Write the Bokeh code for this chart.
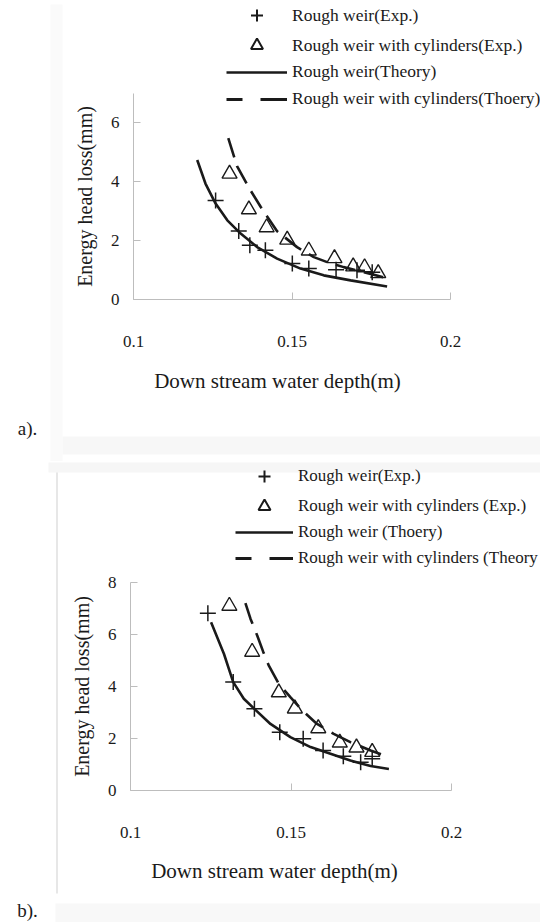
from bokeh.plotting import figure
from bokeh.layouts import column
from bokeh.models import (Legend, LegendItem, Label, Range1d, FixedTicker, BoxAnnotation,
                          LinearAxis)
from bokeh.embed import file_html
from bokeh.resources import INLINE

NAN = float("nan")

# ---------------- data: panel a ----------------
a_rough_exp_x = [0.1259, 0.1332, 0.1367, 0.1416, 0.1501, 0.1553, 0.1639, 0.1705, 0.1753]
a_rough_exp_y = [3.36, 2.33, 1.84, 1.67, 1.22, 1.05, 1.01, 0.99, 0.93]
a_cyl_exp_x = [0.1303, 0.1364, 0.1420, 0.1485, 0.1553, 0.1634, 0.1693, 0.1729, 0.1772]
a_cyl_exp_y = [4.27, 3.06, 2.45, 2.03, 1.66, 1.40, 1.12, 1.09, 0.89]
a_rough_th_x = [0.1201, 0.1227, 0.1259, 0.1296, 0.1338, 0.1390, 0.1453, 0.1527, 0.1600, 0.1685, 0.1800]
a_rough_th_y = [4.74, 3.94, 3.26, 2.69, 2.24, 1.78, 1.39, 1.05, 0.82, 0.65, 0.44]
a_cyl_th_x = [0.1299, 0.1327, 0.1364, 0.1401, 0.1453, 0.1516, 0.1569, 0.1611, 0.1663, 0.1727, 0.1805]
a_cyl_th_y = [5.48, 4.52, 3.80, 3.15, 2.32, 1.78, 1.44, 1.27, 1.10, 0.93, 0.71]
a_labels = ["Rough weir(Exp.)", "Rough weir with cylinders(Exp.)",
            "Rough weir(Theory)", "Rough weir with cylinders(Thoery)"]

# ---------------- data: panel b ----------------
b_rough_exp_x = [0.1241, 0.1320, 0.1386, 0.1465, 0.1538, 0.1600, 0.1663, 0.1717, 0.1753]
b_rough_exp_y = [6.82, 4.17, 3.14, 2.24, 1.99, 1.54, 1.32, 1.09, 1.22]
b_cyl_exp_x = [0.1308, 0.1379, 0.1462, 0.1512, 0.1585, 0.1652, 0.1704, 0.1753]
b_cyl_exp_y = [7.10, 5.33, 3.77, 3.15, 2.39, 1.84, 1.65, 1.48]
b_rough_th_x = [0.1251, 0.1291, 0.1320, 0.1353, 0.1386, 0.1436, 0.1498, 0.1561, 0.1623, 0.1685, 0.1748, 0.1805]
b_rough_th_y = [6.47, 5.26, 4.17, 3.53, 3.14, 2.56, 2.05, 1.67, 1.41, 1.15, 0.94, 0.83]
b_cyl_th_x = [0.1358, 0.1374, 0.1395, 0.1413, 0.1431, 0.1462, 0.1498, 0.1535, 0.1581, 0.1633, 0.1685, 0.1748, 0.1805]
b_cyl_th_y = [7.21, 6.60, 5.95, 5.35, 4.80, 4.10, 3.59, 3.08, 2.56, 2.18, 1.86, 1.54, 1.28]
b_labels = ["Rough weir(Exp.)", "Rough weir with cylinders (Exp.)",
            "Rough weir (Thoery)", "Rough weir with cylinders (Theory"]

x_ticks = [0.1, 0.15, 0.2]
x_tick_labels = ["0.1", "0.15", "0.2"]
a_y_ticks = [0, 2, 4, 6]
b_y_ticks = [0, 2, 4, 6, 8]
x_title = "Down stream water depth(m)"
y_title = "Energy head loss(mm)"

FONT = "Liberation Serif"
INK = "#1a1a1a"
AXIS_GREY = "#bdbdbd"
W, H = 540, 461


def make_panel(ymax, y_ticks, rx, ry, cx, cy, rtx, rty, ctx, cty, labels,
               frame_px, legend_px, glyph_w, dash, legend_dash, legend_font,
               tag, tag_px, xtitle_px, decor):
    # frame_px: pixel positions (x of 0.1, x of 0.2, y of 0, y of ymax) in this canvas
    x0p, x1p, y0p, y1p = frame_px
    kx = (x1p - x0p) / 0.1
    ky = (y0p - y1p) / ymax

    def dx(px):
        return 0.1 + (px - x0p) / kx

    def dy(py):
        return (y0p - py) / ky

    p = figure(width=W, height=H, x_range=Range1d(dx(0), dx(W)), y_range=Range1d(dy(H), dy(0)),
               output_backend="svg", toolbar_location=None,
               x_axis_location=None, y_axis_location=None, min_border=0,
               min_border_left=0, min_border_right=0, min_border_top=0, min_border_bottom=0)
    p.outline_line_color = None
    p.grid.visible = False
    p.background_fill_color = "white"
    p.border_fill_color = "white"

    for (l, r, t, b, c) in decor:
        p.add_layout(BoxAnnotation(left=dx(l), right=dx(r), top=dy(t), bottom=dy(b),
                                   fill_color=c, fill_alpha=1, line_color=None, level="underlay"))

    xaxis = LinearAxis(fixed_location=0, bounds=(0.1, 0.2), ticker=FixedTicker(ticks=x_ticks),
                       major_label_overrides={t: l for t, l in zip(x_ticks, x_tick_labels)})
    yaxis = LinearAxis(fixed_location=0.1, bounds=(0, ymax), ticker=FixedTicker(ticks=y_ticks),
                       axis_label=y_title)
    for ax in (xaxis, yaxis):
        ax.axis_line_color = AXIS_GREY
        ax.major_tick_line_color = AXIS_GREY
        ax.major_tick_in = 7
        ax.major_tick_out = 0
        ax.minor_tick_line_color = None
        ax.major_label_text_font = FONT
        ax.major_label_text_font_size = "17px"
        ax.major_label_text_color = INK
        ax.axis_label_text_font = FONT
        ax.axis_label_text_font_style = "normal"
        ax.axis_label_text_color = INK
    xaxis.major_label_standoff = 36
    yaxis.axis_label_text_font_size = "20px"
    yaxis.major_label_standoff = 14
    yaxis.axis_label_standoff = 12
    p.add_layout(xaxis, "below")
    p.add_layout(yaxis, "left")

    # x-axis title (sits a little left of the axis centre in the original)
    p.add_layout(Label(x=dx(xtitle_px[0]), y=dy(xtitle_px[1]), text=x_title,
                       text_align="center", text_baseline="middle", text_font=FONT,
                       text_font_size="21px", text_color=INK))

    r_cross = p.scatter(rx, ry, marker="cross", size=16, line_color=INK, line_width=1.5)
    r_tri = p.scatter(cx, cy, marker="triangle", size=15, fill_color=None,
                      line_color=INK, line_width=1.4)
    r_line = p.line(rtx, rty, line_color=INK, line_width=2.6)
    r_dash = p.line(ctx, cty, line_color=INK, line_width=2.6, line_dash=dash)

    # legend-only sample glyphs (NaN data, never drawn in the plot)
    s_cross = p.scatter(x=[NAN], y=[NAN], marker="cross", line_color=INK, line_width=2)
    s_tri = p.scatter(x=[NAN], y=[NAN], marker="triangle", fill_color=None, line_color=INK,
                      line_width=2)
    s_line = p.line(x=[NAN, NAN], y=[NAN, NAN], line_color=INK, line_width=2.6)
    s_dash = p.line(x=[NAN, NAN], y=[NAN, NAN], line_color=INK, line_width=3,
                    line_dash=legend_dash)

    lx, top1, top2 = legend_px
    common = dict(border_line_color=None, background_fill_alpha=0, padding=0, margin=0,
                  glyph_width=glyph_w, label_standoff=5, label_text_font=FONT,
                  label_text_font_size=legend_font, label_text_color=INK)
    leg1 = Legend(items=[LegendItem(label=labels[0], renderers=[s_cross]),
                         LegendItem(label=labels[1], renderers=[s_tri])],
                  location=(lx, H - (top1 + 60)), glyph_height=30, label_height=30,
                  spacing=0, **common)
    leg2 = Legend(items=[LegendItem(label=labels[2], renderers=[s_line]),
                         LegendItem(label=labels[3], renderers=[s_dash])],
                  location=(lx, H - (top2 + 46)), glyph_height=20, label_height=20,
                  spacing=6, **common)
    p.add_layout(leg1)
    p.add_layout(leg2)

    p.add_layout(Label(x=dx(tag_px[0]), y=dy(tag_px[1]), text=tag, text_align="center",
                       text_baseline="middle", text_font=FONT, text_font_size="19px",
                       text_color=INK))
    return p


a_decor = [(50, 62, 4, 461, "#fafafa"), (62, 540, 436, 454, "#f7f7f7")]
b_decor = [(48, 540, 1, 11, "#f6f6f6"), (56, 57, 11, 432, "#cfcfcf"),
           (55, 540, 442, 461, "#f8f8f8")]

pa = make_panel(7, a_y_ticks, a_rough_exp_x, a_rough_exp_y, a_cyl_exp_x, a_cyl_exp_y,
                a_rough_th_x, a_rough_th_y, a_cyl_th_x, a_cyl_th_y, a_labels,
                (133, 450, 299, 93), (226, 0, 63), 61, "20 9", "16 18 30", "17.5px",
                "a).", (27, 428), (277, 380), a_decor)
pb = make_panel(8, b_y_ticks, b_rough_exp_x, b_rough_exp_y, b_cyl_exp_x, b_cyl_exp_y,
                b_rough_th_x, b_rough_th_y, b_cyl_th_x, b_cyl_th_y, b_labels,
                (130, 451, 329, 121), (235, 0, 61), 58, "22 10", "16 18 30", "17px",
                "b).", (27, 449), (274, 409), b_decor)

layout = column(pa, pb, spacing=0)
open("out.html", "w").write(file_html(layout, INLINE))
